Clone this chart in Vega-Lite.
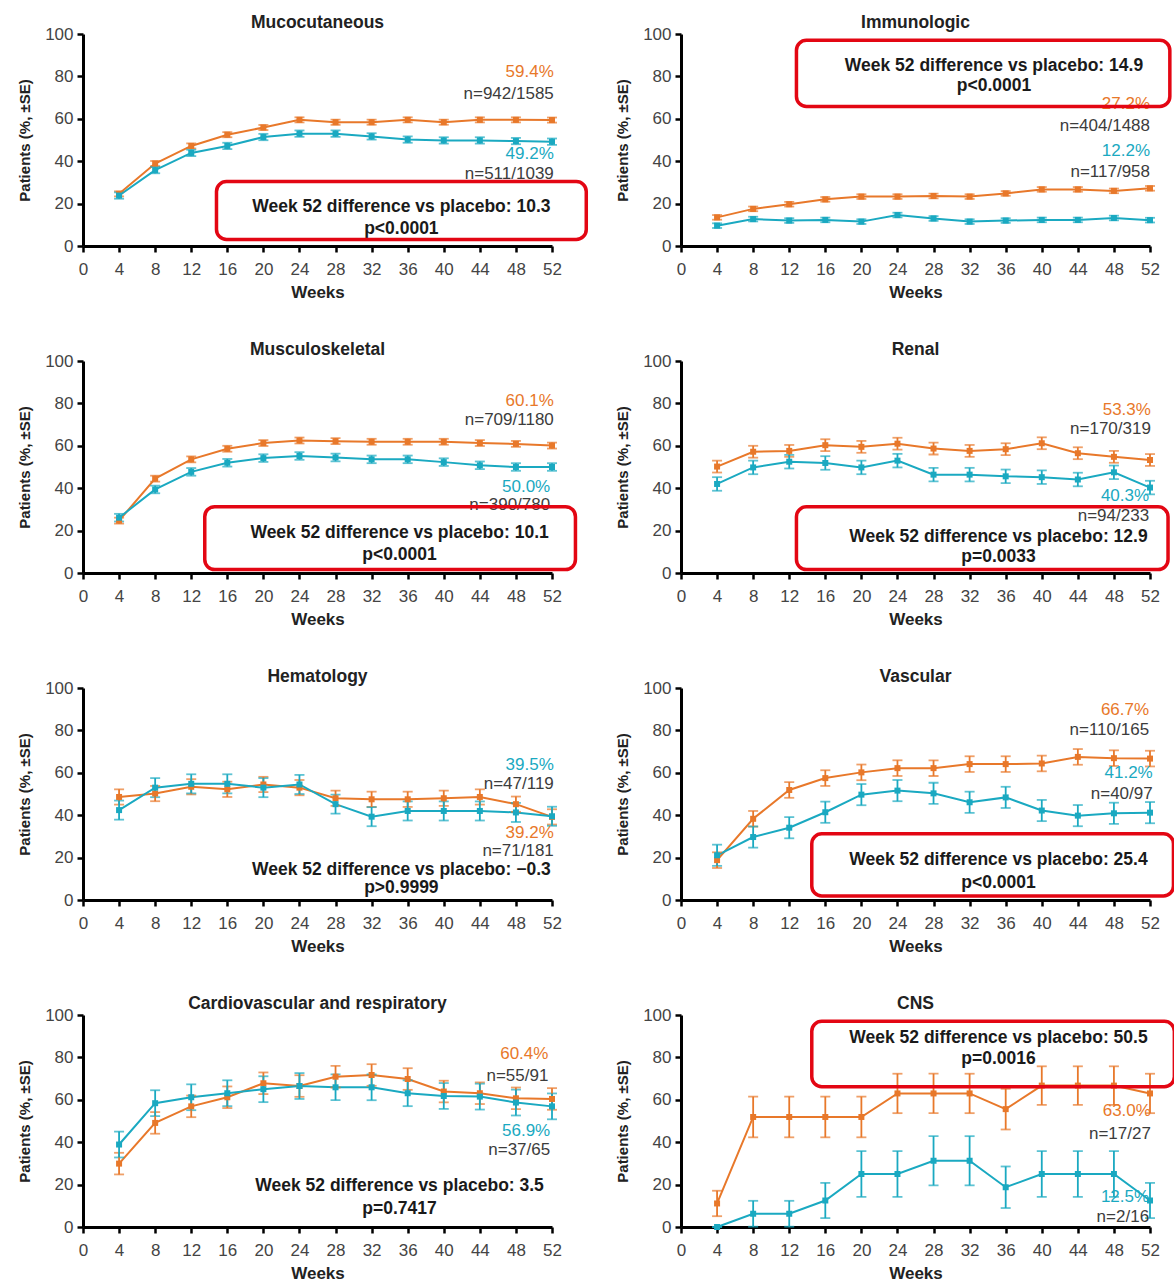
{
 "$schema": "https://vega.github.io/schema/vega-lite/v6.json",
 "padding": {"left": 17, "top": 13, "right": 0, "bottom": 0},
 "background": "white",
 "config": {
  "font": "Liberation Sans",
  "view": {"stroke": null},
  "axis": {"domainColor": "#000", "domainWidth": 3, "tickColor": "#000", "tickWidth": 2.5, "tickSize": 6, "labelFontSize": 17, "labelColor": "#444", "titleFontWeight": "bold", "titleColor": "#222", "grid": false, "labelFont": "Liberation Sans", "titleFont": "Liberation Sans", "labelOverlap": false, "labelFlush": false},
  "axisX": {"labelPadding": 9, "titlePadding": 7, "titleFontSize": 17},
  "axisY": {"labelPadding": 4, "titlePadding": 12, "titleFontSize": 15}
 },
 "data": {"values": [
  {"kind":"pt","panel":"Mucocutaneous","group":"Treatment","week":4,"value":24.6,"se":1.2},
  {"kind":"pt","panel":"Mucocutaneous","group":"Treatment","week":8,"value":38.9,"se":1.2},
  {"kind":"pt","panel":"Mucocutaneous","group":"Treatment","week":12,"value":47.2,"se":1.2},
  {"kind":"pt","panel":"Mucocutaneous","group":"Treatment","week":16,"value":52.5,"se":1.2},
  {"kind":"pt","panel":"Mucocutaneous","group":"Treatment","week":20,"value":55.9,"se":1.2},
  {"kind":"pt","panel":"Mucocutaneous","group":"Treatment","week":24,"value":59.5,"se":1.2},
  {"kind":"pt","panel":"Mucocutaneous","group":"Treatment","week":28,"value":58.4,"se":1.2},
  {"kind":"pt","panel":"Mucocutaneous","group":"Treatment","week":32,"value":58.4,"se":1.2},
  {"kind":"pt","panel":"Mucocutaneous","group":"Treatment","week":36,"value":59.5,"se":1.2},
  {"kind":"pt","panel":"Mucocutaneous","group":"Treatment","week":40,"value":58.4,"se":1.2},
  {"kind":"pt","panel":"Mucocutaneous","group":"Treatment","week":44,"value":59.5,"se":1.2},
  {"kind":"pt","panel":"Mucocutaneous","group":"Treatment","week":48,"value":59.5,"se":1.2},
  {"kind":"pt","panel":"Mucocutaneous","group":"Treatment","week":52,"value":59.4,"se":1.2},
  {"kind":"pt","panel":"Mucocutaneous","group":"Placebo","week":4,"value":23.8,"se":1.5},
  {"kind":"pt","panel":"Mucocutaneous","group":"Placebo","week":8,"value":35.8,"se":1.5},
  {"kind":"pt","panel":"Mucocutaneous","group":"Placebo","week":12,"value":43.9,"se":1.5},
  {"kind":"pt","panel":"Mucocutaneous","group":"Placebo","week":16,"value":47.2,"se":1.5},
  {"kind":"pt","panel":"Mucocutaneous","group":"Placebo","week":20,"value":51.4,"se":1.5},
  {"kind":"pt","panel":"Mucocutaneous","group":"Placebo","week":24,"value":53.0,"se":1.5},
  {"kind":"pt","panel":"Mucocutaneous","group":"Placebo","week":28,"value":53.0,"se":1.5},
  {"kind":"pt","panel":"Mucocutaneous","group":"Placebo","week":32,"value":51.7,"se":1.5},
  {"kind":"pt","panel":"Mucocutaneous","group":"Placebo","week":36,"value":50.2,"se":1.5},
  {"kind":"pt","panel":"Mucocutaneous","group":"Placebo","week":40,"value":49.8,"se":1.5},
  {"kind":"pt","panel":"Mucocutaneous","group":"Placebo","week":44,"value":49.8,"se":1.5},
  {"kind":"pt","panel":"Mucocutaneous","group":"Placebo","week":48,"value":49.5,"se":1.5},
  {"kind":"pt","panel":"Mucocutaneous","group":"Placebo","week":52,"value":49.2,"se":1.5},

  {"kind":"pt","panel":"Immunologic","group":"Treatment","week":4,"value":13.5,"se":1.1},
  {"kind":"pt","panel":"Immunologic","group":"Treatment","week":8,"value":17.5,"se":1.1},
  {"kind":"pt","panel":"Immunologic","group":"Treatment","week":12,"value":19.7,"se":1.1},
  {"kind":"pt","panel":"Immunologic","group":"Treatment","week":16,"value":22.0,"se":1.1},
  {"kind":"pt","panel":"Immunologic","group":"Treatment","week":20,"value":23.3,"se":1.1},
  {"kind":"pt","panel":"Immunologic","group":"Treatment","week":24,"value":23.3,"se":1.1},
  {"kind":"pt","panel":"Immunologic","group":"Treatment","week":28,"value":23.6,"se":1.1},
  {"kind":"pt","panel":"Immunologic","group":"Treatment","week":32,"value":23.3,"se":1.1},
  {"kind":"pt","panel":"Immunologic","group":"Treatment","week":36,"value":24.8,"se":1.1},
  {"kind":"pt","panel":"Immunologic","group":"Treatment","week":40,"value":26.7,"se":1.1},
  {"kind":"pt","panel":"Immunologic","group":"Treatment","week":44,"value":26.7,"se":1.1},
  {"kind":"pt","panel":"Immunologic","group":"Treatment","week":48,"value":26.0,"se":1.1},
  {"kind":"pt","panel":"Immunologic","group":"Treatment","week":52,"value":27.2,"se":1.1},
  {"kind":"pt","panel":"Immunologic","group":"Placebo","week":4,"value":9.6,"se":1.1},
  {"kind":"pt","panel":"Immunologic","group":"Placebo","week":8,"value":12.7,"se":1.1},
  {"kind":"pt","panel":"Immunologic","group":"Placebo","week":12,"value":12.0,"se":1.1},
  {"kind":"pt","panel":"Immunologic","group":"Placebo","week":16,"value":12.3,"se":1.1},
  {"kind":"pt","panel":"Immunologic","group":"Placebo","week":20,"value":11.5,"se":1.1},
  {"kind":"pt","panel":"Immunologic","group":"Placebo","week":24,"value":14.6,"se":1.1},
  {"kind":"pt","panel":"Immunologic","group":"Placebo","week":28,"value":13.0,"se":1.1},
  {"kind":"pt","panel":"Immunologic","group":"Placebo","week":32,"value":11.5,"se":1.1},
  {"kind":"pt","panel":"Immunologic","group":"Placebo","week":36,"value":12.0,"se":1.1},
  {"kind":"pt","panel":"Immunologic","group":"Placebo","week":40,"value":12.3,"se":1.1},
  {"kind":"pt","panel":"Immunologic","group":"Placebo","week":44,"value":12.3,"se":1.1},
  {"kind":"pt","panel":"Immunologic","group":"Placebo","week":48,"value":13.2,"se":1.1},
  {"kind":"pt","panel":"Immunologic","group":"Placebo","week":52,"value":12.2,"se":1.1},

  {"kind":"pt","panel":"Musculoskeletal","group":"Treatment","week":4,"value":24.7,"se":1.4},
  {"kind":"pt","panel":"Musculoskeletal","group":"Treatment","week":8,"value":44.5,"se":1.4},
  {"kind":"pt","panel":"Musculoskeletal","group":"Treatment","week":12,"value":53.6,"se":1.4},
  {"kind":"pt","panel":"Musculoskeletal","group":"Treatment","week":16,"value":58.6,"se":1.4},
  {"kind":"pt","panel":"Musculoskeletal","group":"Treatment","week":20,"value":61.3,"se":1.4},
  {"kind":"pt","panel":"Musculoskeletal","group":"Treatment","week":24,"value":62.5,"se":1.4},
  {"kind":"pt","panel":"Musculoskeletal","group":"Treatment","week":28,"value":62.2,"se":1.4},
  {"kind":"pt","panel":"Musculoskeletal","group":"Treatment","week":32,"value":61.9,"se":1.4},
  {"kind":"pt","panel":"Musculoskeletal","group":"Treatment","week":36,"value":61.9,"se":1.4},
  {"kind":"pt","panel":"Musculoskeletal","group":"Treatment","week":40,"value":61.9,"se":1.4},
  {"kind":"pt","panel":"Musculoskeletal","group":"Treatment","week":44,"value":61.3,"se":1.4},
  {"kind":"pt","panel":"Musculoskeletal","group":"Treatment","week":48,"value":60.9,"se":1.4},
  {"kind":"pt","panel":"Musculoskeletal","group":"Treatment","week":52,"value":60.1,"se":1.4},
  {"kind":"pt","panel":"Musculoskeletal","group":"Placebo","week":4,"value":26.1,"se":1.8},
  {"kind":"pt","panel":"Musculoskeletal","group":"Placebo","week":8,"value":39.4,"se":1.8},
  {"kind":"pt","panel":"Musculoskeletal","group":"Placebo","week":12,"value":47.7,"se":1.8},
  {"kind":"pt","panel":"Musculoskeletal","group":"Placebo","week":16,"value":52.0,"se":1.8},
  {"kind":"pt","panel":"Musculoskeletal","group":"Placebo","week":20,"value":54.2,"se":1.8},
  {"kind":"pt","panel":"Musculoskeletal","group":"Placebo","week":24,"value":55.2,"se":1.8},
  {"kind":"pt","panel":"Musculoskeletal","group":"Placebo","week":28,"value":54.5,"se":1.8},
  {"kind":"pt","panel":"Musculoskeletal","group":"Placebo","week":32,"value":53.6,"se":1.8},
  {"kind":"pt","panel":"Musculoskeletal","group":"Placebo","week":36,"value":53.6,"se":1.8},
  {"kind":"pt","panel":"Musculoskeletal","group":"Placebo","week":40,"value":52.3,"se":1.8},
  {"kind":"pt","panel":"Musculoskeletal","group":"Placebo","week":44,"value":50.8,"se":1.8},
  {"kind":"pt","panel":"Musculoskeletal","group":"Placebo","week":48,"value":50.0,"se":1.8},
  {"kind":"pt","panel":"Musculoskeletal","group":"Placebo","week":52,"value":50.0,"se":1.8},

  {"kind":"pt","panel":"Renal","group":"Treatment","week":4,"value":50.2,"se":2.8},
  {"kind":"pt","panel":"Renal","group":"Treatment","week":8,"value":57.2,"se":2.8},
  {"kind":"pt","panel":"Renal","group":"Treatment","week":12,"value":57.6,"se":2.8},
  {"kind":"pt","panel":"Renal","group":"Treatment","week":16,"value":60.3,"se":2.8},
  {"kind":"pt","panel":"Renal","group":"Treatment","week":20,"value":59.5,"se":2.8},
  {"kind":"pt","panel":"Renal","group":"Treatment","week":24,"value":61.0,"se":2.8},
  {"kind":"pt","panel":"Renal","group":"Treatment","week":28,"value":58.7,"se":2.8},
  {"kind":"pt","panel":"Renal","group":"Treatment","week":32,"value":57.6,"se":2.8},
  {"kind":"pt","panel":"Renal","group":"Treatment","week":36,"value":58.4,"se":2.8},
  {"kind":"pt","panel":"Renal","group":"Treatment","week":40,"value":61.2,"se":2.8},
  {"kind":"pt","panel":"Renal","group":"Treatment","week":44,"value":56.5,"se":2.8},
  {"kind":"pt","panel":"Renal","group":"Treatment","week":48,"value":54.8,"se":2.8},
  {"kind":"pt","panel":"Renal","group":"Treatment","week":52,"value":53.3,"se":2.8},
  {"kind":"pt","panel":"Renal","group":"Placebo","week":4,"value":42.0,"se":3.2},
  {"kind":"pt","panel":"Renal","group":"Placebo","week":8,"value":49.8,"se":3.2},
  {"kind":"pt","panel":"Renal","group":"Placebo","week":12,"value":52.5,"se":3.2},
  {"kind":"pt","panel":"Renal","group":"Placebo","week":16,"value":51.9,"se":3.2},
  {"kind":"pt","panel":"Renal","group":"Placebo","week":20,"value":49.8,"se":3.2},
  {"kind":"pt","panel":"Renal","group":"Placebo","week":24,"value":53.0,"se":3.2},
  {"kind":"pt","panel":"Renal","group":"Placebo","week":28,"value":46.4,"se":3.2},
  {"kind":"pt","panel":"Renal","group":"Placebo","week":32,"value":46.4,"se":3.2},
  {"kind":"pt","panel":"Renal","group":"Placebo","week":36,"value":45.6,"se":3.2},
  {"kind":"pt","panel":"Renal","group":"Placebo","week":40,"value":45.2,"se":3.2},
  {"kind":"pt","panel":"Renal","group":"Placebo","week":44,"value":44.1,"se":3.2},
  {"kind":"pt","panel":"Renal","group":"Placebo","week":48,"value":47.5,"se":3.2},
  {"kind":"pt","panel":"Renal","group":"Placebo","week":52,"value":40.3,"se":3.2},

  {"kind":"pt","panel":"Hematology","group":"Treatment","week":4,"value":48.6,"se":3.6},
  {"kind":"pt","panel":"Hematology","group":"Treatment","week":8,"value":50.2,"se":3.6},
  {"kind":"pt","panel":"Hematology","group":"Treatment","week":12,"value":53.4,"se":3.6},
  {"kind":"pt","panel":"Hematology","group":"Treatment","week":16,"value":52.2,"se":3.6},
  {"kind":"pt","panel":"Hematology","group":"Treatment","week":20,"value":54.5,"se":3.6},
  {"kind":"pt","panel":"Hematology","group":"Treatment","week":24,"value":53.0,"se":3.6},
  {"kind":"pt","panel":"Hematology","group":"Treatment","week":28,"value":48.0,"se":3.6},
  {"kind":"pt","panel":"Hematology","group":"Treatment","week":32,"value":47.5,"se":3.6},
  {"kind":"pt","panel":"Hematology","group":"Treatment","week":36,"value":47.5,"se":3.6},
  {"kind":"pt","panel":"Hematology","group":"Treatment","week":40,"value":48.0,"se":3.6},
  {"kind":"pt","panel":"Hematology","group":"Treatment","week":44,"value":48.6,"se":3.6},
  {"kind":"pt","panel":"Hematology","group":"Treatment","week":48,"value":45.2,"se":3.6},
  {"kind":"pt","panel":"Hematology","group":"Treatment","week":52,"value":39.2,"se":3.6},
  {"kind":"pt","panel":"Hematology","group":"Placebo","week":4,"value":42.4,"se":4.5},
  {"kind":"pt","panel":"Hematology","group":"Placebo","week":8,"value":53.0,"se":4.5},
  {"kind":"pt","panel":"Hematology","group":"Placebo","week":12,"value":54.8,"se":4.5},
  {"kind":"pt","panel":"Hematology","group":"Placebo","week":16,"value":54.8,"se":4.5},
  {"kind":"pt","panel":"Hematology","group":"Placebo","week":20,"value":53.0,"se":4.5},
  {"kind":"pt","panel":"Hematology","group":"Placebo","week":24,"value":54.5,"se":4.5},
  {"kind":"pt","panel":"Hematology","group":"Placebo","week":28,"value":45.2,"se":4.5},
  {"kind":"pt","panel":"Hematology","group":"Placebo","week":32,"value":39.3,"se":4.5},
  {"kind":"pt","panel":"Hematology","group":"Placebo","week":36,"value":42.0,"se":4.5},
  {"kind":"pt","panel":"Hematology","group":"Placebo","week":40,"value":42.0,"se":4.5},
  {"kind":"pt","panel":"Hematology","group":"Placebo","week":44,"value":42.0,"se":4.5},
  {"kind":"pt","panel":"Hematology","group":"Placebo","week":48,"value":41.3,"se":4.5},
  {"kind":"pt","panel":"Hematology","group":"Placebo","week":52,"value":39.5,"se":4.5},

  {"kind":"pt","panel":"Vascular","group":"Treatment","week":4,"value":18.8,"se":3.7},
  {"kind":"pt","panel":"Vascular","group":"Treatment","week":8,"value":38.3,"se":3.7},
  {"kind":"pt","panel":"Vascular","group":"Treatment","week":12,"value":51.9,"se":3.7},
  {"kind":"pt","panel":"Vascular","group":"Treatment","week":16,"value":57.5,"se":3.7},
  {"kind":"pt","panel":"Vascular","group":"Treatment","week":20,"value":60.2,"se":3.7},
  {"kind":"pt","panel":"Vascular","group":"Treatment","week":24,"value":62.2,"se":3.7},
  {"kind":"pt","panel":"Vascular","group":"Treatment","week":28,"value":62.2,"se":3.7},
  {"kind":"pt","panel":"Vascular","group":"Treatment","week":32,"value":64.1,"se":3.7},
  {"kind":"pt","panel":"Vascular","group":"Treatment","week":36,"value":64.1,"se":3.7},
  {"kind":"pt","panel":"Vascular","group":"Treatment","week":40,"value":64.4,"se":3.7},
  {"kind":"pt","panel":"Vascular","group":"Treatment","week":44,"value":67.5,"se":3.7},
  {"kind":"pt","panel":"Vascular","group":"Treatment","week":48,"value":66.9,"se":3.7},
  {"kind":"pt","panel":"Vascular","group":"Treatment","week":52,"value":66.7,"se":3.7},
  {"kind":"pt","panel":"Vascular","group":"Placebo","week":4,"value":21.1,"se":5.0},
  {"kind":"pt","panel":"Vascular","group":"Placebo","week":8,"value":29.7,"se":5.0},
  {"kind":"pt","panel":"Vascular","group":"Placebo","week":12,"value":34.1,"se":5.0},
  {"kind":"pt","panel":"Vascular","group":"Placebo","week":16,"value":41.4,"se":5.0},
  {"kind":"pt","panel":"Vascular","group":"Placebo","week":20,"value":49.7,"se":5.0},
  {"kind":"pt","panel":"Vascular","group":"Placebo","week":24,"value":51.6,"se":5.0},
  {"kind":"pt","panel":"Vascular","group":"Placebo","week":28,"value":50.3,"se":5.0},
  {"kind":"pt","panel":"Vascular","group":"Placebo","week":32,"value":46.1,"se":5.0},
  {"kind":"pt","panel":"Vascular","group":"Placebo","week":36,"value":48.4,"se":5.0},
  {"kind":"pt","panel":"Vascular","group":"Placebo","week":40,"value":42.2,"se":5.0},
  {"kind":"pt","panel":"Vascular","group":"Placebo","week":44,"value":39.8,"se":5.0},
  {"kind":"pt","panel":"Vascular","group":"Placebo","week":48,"value":40.9,"se":5.0},
  {"kind":"pt","panel":"Vascular","group":"Placebo","week":52,"value":41.2,"se":5.0},

  {"kind":"pt","panel":"Cardiovascular and respiratory","group":"Treatment","week":4,"value":29.9,"se":5.1},
  {"kind":"pt","panel":"Cardiovascular and respiratory","group":"Treatment","week":8,"value":49.1,"se":5.1},
  {"kind":"pt","panel":"Cardiovascular and respiratory","group":"Treatment","week":12,"value":56.9,"se":5.1},
  {"kind":"pt","panel":"Cardiovascular and respiratory","group":"Treatment","week":16,"value":61.2,"se":5.1},
  {"kind":"pt","panel":"Cardiovascular and respiratory","group":"Treatment","week":20,"value":67.8,"se":5.1},
  {"kind":"pt","panel":"Cardiovascular and respiratory","group":"Treatment","week":24,"value":66.5,"se":5.1},
  {"kind":"pt","panel":"Cardiovascular and respiratory","group":"Treatment","week":28,"value":70.9,"se":5.1},
  {"kind":"pt","panel":"Cardiovascular and respiratory","group":"Treatment","week":32,"value":71.7,"se":5.1},
  {"kind":"pt","panel":"Cardiovascular and respiratory","group":"Treatment","week":36,"value":69.8,"se":5.1},
  {"kind":"pt","panel":"Cardiovascular and respiratory","group":"Treatment","week":40,"value":63.9,"se":5.1},
  {"kind":"pt","panel":"Cardiovascular and respiratory","group":"Treatment","week":44,"value":63.1,"se":5.1},
  {"kind":"pt","panel":"Cardiovascular and respiratory","group":"Treatment","week":48,"value":60.7,"se":5.1},
  {"kind":"pt","panel":"Cardiovascular and respiratory","group":"Treatment","week":52,"value":60.4,"se":5.1},
  {"kind":"pt","panel":"Cardiovascular and respiratory","group":"Placebo","week":4,"value":38.9,"se":6.1},
  {"kind":"pt","panel":"Cardiovascular and respiratory","group":"Placebo","week":8,"value":58.4,"se":6.1},
  {"kind":"pt","panel":"Cardiovascular and respiratory","group":"Placebo","week":12,"value":61.2,"se":6.1},
  {"kind":"pt","panel":"Cardiovascular and respiratory","group":"Placebo","week":16,"value":63.1,"se":6.1},
  {"kind":"pt","panel":"Cardiovascular and respiratory","group":"Placebo","week":20,"value":65.0,"se":6.1},
  {"kind":"pt","panel":"Cardiovascular and respiratory","group":"Placebo","week":24,"value":66.5,"se":6.1},
  {"kind":"pt","panel":"Cardiovascular and respiratory","group":"Placebo","week":28,"value":65.9,"se":6.1},
  {"kind":"pt","panel":"Cardiovascular and respiratory","group":"Placebo","week":32,"value":65.9,"se":6.1},
  {"kind":"pt","panel":"Cardiovascular and respiratory","group":"Placebo","week":36,"value":63.1,"se":6.1},
  {"kind":"pt","panel":"Cardiovascular and respiratory","group":"Placebo","week":40,"value":61.8,"se":6.1},
  {"kind":"pt","panel":"Cardiovascular and respiratory","group":"Placebo","week":44,"value":61.5,"se":6.1},
  {"kind":"pt","panel":"Cardiovascular and respiratory","group":"Placebo","week":48,"value":58.7,"se":6.1},
  {"kind":"pt","panel":"Cardiovascular and respiratory","group":"Placebo","week":52,"value":56.9,"se":6.1},

  {"kind":"pt","panel":"CNS","group":"Treatment","week":4,"value":11.1,"se":6.0},
  {"kind":"pt","panel":"CNS","group":"Treatment","week":8,"value":51.9,"se":9.6},
  {"kind":"pt","panel":"CNS","group":"Treatment","week":12,"value":51.9,"se":9.6},
  {"kind":"pt","panel":"CNS","group":"Treatment","week":16,"value":51.9,"se":9.6},
  {"kind":"pt","panel":"CNS","group":"Treatment","week":20,"value":51.9,"se":9.6},
  {"kind":"pt","panel":"CNS","group":"Treatment","week":24,"value":63.0,"se":9.3},
  {"kind":"pt","panel":"CNS","group":"Treatment","week":28,"value":63.0,"se":9.3},
  {"kind":"pt","panel":"CNS","group":"Treatment","week":32,"value":63.0,"se":9.3},
  {"kind":"pt","panel":"CNS","group":"Treatment","week":36,"value":55.6,"se":9.6},
  {"kind":"pt","panel":"CNS","group":"Treatment","week":40,"value":66.7,"se":9.1},
  {"kind":"pt","panel":"CNS","group":"Treatment","week":44,"value":66.7,"se":9.1},
  {"kind":"pt","panel":"CNS","group":"Treatment","week":48,"value":66.7,"se":9.1},
  {"kind":"pt","panel":"CNS","group":"Treatment","week":52,"value":63.0,"se":9.3},
  {"kind":"pt","panel":"CNS","group":"Placebo","week":4,"value":0,"se":0},
  {"kind":"pt","panel":"CNS","group":"Placebo","week":8,"value":6.25,"se":6.1},
  {"kind":"pt","panel":"CNS","group":"Placebo","week":12,"value":6.25,"se":6.1},
  {"kind":"pt","panel":"CNS","group":"Placebo","week":16,"value":12.5,"se":8.3},
  {"kind":"pt","panel":"CNS","group":"Placebo","week":20,"value":25,"se":10.8},
  {"kind":"pt","panel":"CNS","group":"Placebo","week":24,"value":25,"se":10.8},
  {"kind":"pt","panel":"CNS","group":"Placebo","week":28,"value":31.25,"se":11.6},
  {"kind":"pt","panel":"CNS","group":"Placebo","week":32,"value":31.25,"se":11.6},
  {"kind":"pt","panel":"CNS","group":"Placebo","week":36,"value":18.75,"se":9.8},
  {"kind":"pt","panel":"CNS","group":"Placebo","week":40,"value":25,"se":10.8},
  {"kind":"pt","panel":"CNS","group":"Placebo","week":44,"value":25,"se":10.8},
  {"kind":"pt","panel":"CNS","group":"Placebo","week":48,"value":25,"se":10.8},
  {"kind":"pt","panel":"CNS","group":"Placebo","week":52,"value":12.5,"se":8.3},

  {"kind":"ann","panel":"Mucocutaneous","group":"Treatment","ax":52.2,"ay":82.1,"label":"59.4%"},
  {"kind":"ann","panel":"Mucocutaneous","group":"n","ax":52.2,"ay":71.7,"label":"n=942/1585"},
  {"kind":"ann","panel":"Mucocutaneous","group":"Placebo","ax":52.2,"ay":43.3,"label":"49.2%"},
  {"kind":"ann","panel":"Mucocutaneous","group":"n","ax":52.2,"ay":34,"label":"n=511/1039"},
  {"kind":"ann","panel":"Immunologic","group":"Treatment","ax":52,"ay":67,"label":"27.2%"},
  {"kind":"ann","panel":"Immunologic","group":"n","ax":52,"ay":56.5,"label":"n=404/1488"},
  {"kind":"ann","panel":"Immunologic","group":"Placebo","ax":52,"ay":44.6,"label":"12.2%"},
  {"kind":"ann","panel":"Immunologic","group":"n","ax":52,"ay":34.8,"label":"n=117/958"},
  {"kind":"ann","panel":"Musculoskeletal","group":"Treatment","ax":52.2,"ay":81.3,"label":"60.1%"},
  {"kind":"ann","panel":"Musculoskeletal","group":"n","ax":52.2,"ay":72.3,"label":"n=709/1180"},
  {"kind":"ann","panel":"Musculoskeletal","group":"Placebo","ax":51.8,"ay":40.6,"label":"50.0%"},
  {"kind":"ann","panel":"Musculoskeletal","group":"n","ax":51.8,"ay":32,"label":"n=390/780"},
  {"kind":"ann","panel":"Renal","group":"Treatment","ax":52.1,"ay":77.1,"label":"53.3%"},
  {"kind":"ann","panel":"Renal","group":"n","ax":52.1,"ay":67.8,"label":"n=170/319"},
  {"kind":"ann","panel":"Renal","group":"Placebo","ax":51.9,"ay":36.4,"label":"40.3%"},
  {"kind":"ann","panel":"Renal","group":"n","ax":51.9,"ay":26.8,"label":"n=94/233"},
  {"kind":"ann","panel":"Hematology","group":"Placebo","ax":52.2,"ay":63.6,"label":"39.5%"},
  {"kind":"ann","panel":"Hematology","group":"n","ax":52.2,"ay":54.8,"label":"n=47/119"},
  {"kind":"ann","panel":"Hematology","group":"Treatment","ax":52.2,"ay":31.6,"label":"39.2%"},
  {"kind":"ann","panel":"Hematology","group":"n","ax":52.2,"ay":23.1,"label":"n=71/181"},
  {"kind":"ann","panel":"Vascular","group":"Treatment","ax":51.9,"ay":89.8,"label":"66.7%"},
  {"kind":"ann","panel":"Vascular","group":"n","ax":51.9,"ay":80,"label":"n=110/165"},
  {"kind":"ann","panel":"Vascular","group":"Placebo","ax":52.3,"ay":59.7,"label":"41.2%"},
  {"kind":"ann","panel":"Vascular","group":"n","ax":52.3,"ay":50,"label":"n=40/97"},
  {"kind":"ann","panel":"Cardiovascular and respiratory","group":"Treatment","ax":51.6,"ay":81.5,"label":"60.4%"},
  {"kind":"ann","panel":"Cardiovascular and respiratory","group":"n","ax":51.6,"ay":71.3,"label":"n=55/91"},
  {"kind":"ann","panel":"Cardiovascular and respiratory","group":"Placebo","ax":51.8,"ay":45.2,"label":"56.9%"},
  {"kind":"ann","panel":"Cardiovascular and respiratory","group":"n","ax":51.8,"ay":36.3,"label":"n=37/65"},
  {"kind":"ann","panel":"CNS","group":"Treatment","ax":52.1,"ay":54.5,"label":"63.0%"},
  {"kind":"ann","panel":"CNS","group":"n","ax":52.1,"ay":44.1,"label":"n=17/27"},
  {"kind":"ann","panel":"CNS","group":"Placebo","ax":51.9,"ay":14,"label":"12.5%"},
  {"kind":"ann","panel":"CNS","group":"n","ax":51.9,"ay":4.7,"label":"n=2/16"},

  {"kind":"dt","panel":"Mucocutaneous","ax":35.3,"ay":18.4,"label":"Week 52 difference vs placebo: 10.3"},
  {"kind":"dt","panel":"Mucocutaneous","ax":35.3,"ay":7.8,"label":"p<0.0001"},
  {"kind":"dt","panel":"Immunologic","ax":34.7,"ay":84.9,"label":"Week 52 difference vs placebo: 14.9"},
  {"kind":"dt","panel":"Immunologic","ax":34.7,"ay":75.6,"label":"p<0.0001"},
  {"kind":"dt","panel":"Musculoskeletal","ax":35.1,"ay":18.8,"label":"Week 52 difference vs placebo: 10.1"},
  {"kind":"dt","panel":"Musculoskeletal","ax":35.1,"ay":8.6,"label":"p<0.0001"},
  {"kind":"dt","panel":"Renal","ax":35.2,"ay":17.0,"label":"Week 52 difference vs placebo: 12.9"},
  {"kind":"dt","panel":"Renal","ax":35.2,"ay":7.4,"label":"p=0.0033"},
  {"kind":"dt","panel":"Hematology","ax":35.3,"ay":14.3,"label":"Week 52 difference vs placebo: −0.3"},
  {"kind":"dt","panel":"Hematology","ax":35.3,"ay":5.6,"label":"p>0.9999"},
  {"kind":"dt","panel":"Vascular","ax":35.2,"ay":18.8,"label":"Week 52 difference vs placebo: 25.4"},
  {"kind":"dt","panel":"Vascular","ax":35.2,"ay":7.8,"label":"p<0.0001"},
  {"kind":"dt","panel":"Cardiovascular and respiratory","ax":35.1,"ay":19.2,"label":"Week 52 difference vs placebo: 3.5"},
  {"kind":"dt","panel":"Cardiovascular and respiratory","ax":35.1,"ay":8.6,"label":"p=0.7417"},
  {"kind":"dt","panel":"CNS","ax":35.2,"ay":89.3,"label":"Week 52 difference vs placebo: 50.5"},
  {"kind":"dt","panel":"CNS","ax":35.2,"ay":79.1,"label":"p=0.0016"},

  {"kind":"box","panel":"Mucocutaneous","bx1":14.8,"bx2":55.8,"by1":3.1,"by2":30.4},
  {"kind":"box","panel":"Immunologic","bx1":12.8,"bx2":54.2,"by1":65.8,"by2":97},
  {"kind":"box","panel":"Musculoskeletal","bx1":13.5,"bx2":54.6,"by1":1.6,"by2":31.3},
  {"kind":"box","panel":"Renal","bx1":12.8,"bx2":54,"by1":1.6,"by2":31.2},
  {"kind":"box","panel":"Vascular","bx1":14.5,"bx2":54.6,"by1":1.9,"by2":31.2},
  {"kind":"box","panel":"CNS","bx1":14.5,"bx2":54.7,"by1":66.2,"by2":97}
 ]},
 "facet": {
  "field": "panel", "type": "nominal",
  "sort": ["Mucocutaneous","Immunologic","Musculoskeletal","Renal","Hematology","Vascular","Cardiovascular and respiratory","CNS"],
  "header": {"title": null, "labelFontSize": 17.5, "labelFontWeight": "bold", "labelColor": "#222", "labelPadding": -6, "labelFont": "Liberation Sans"}
 },
 "columns": 2,
 "spacing": {"row": 115, "column": 129},
 "bounds": "flush",
 "resolve": {"axis": {"x": "independent", "y": "independent"}},
 "spec": {
  "width": 469,
  "height": 212,
  "layer": [
   {
    "transform": [{"filter": "datum.kind == 'pt'"}],
    "mark": {"type": "line", "strokeWidth": 2},
    "encoding": {
     "x": {"field": "week", "type": "quantitative", "title": "Weeks", "scale": {"domain": [0, 52], "nice": false, "zero": true}, "axis": {"values": [0,4,8,12,16,20,24,28,32,36,40,44,48,52], "labelOverlap": false, "labelFlush": false, "labelBound": false}},
     "y": {"field": "value", "type": "quantitative", "title": "Patients (%, ±SE)", "scale": {"domain": [0, 100], "nice": false}, "axis": {"values": [0,20,40,60,80,100], "labelOverlap": false}},
     "color": {"field": "group", "type": "nominal", "scale": {"domain": ["Treatment","Placebo","n"], "range": ["#E8782A","#1AA9C1","#3c3c3c"]}, "legend": null}
    }
   },
   {
    "transform": [{"filter": "datum.kind == 'pt'"}],
    "mark": {"type": "errorbar", "ticks": {"size": 10, "thickness": 1.8}, "thickness": 1.8},
    "encoding": {
     "x": {"field": "week", "type": "quantitative", "title": "Weeks", "axis": {"values": [0,4,8,12,16,20,24,28,32,36,40,44,48,52], "labelOverlap": false, "labelFlush": false}},
     "y": {"field": "value", "type": "quantitative", "title": "Patients (%, ±SE)"},
     "yError": {"field": "se"},
     "color": {"field": "group", "type": "nominal", "legend": null}
    }
   },
   {
    "transform": [{"filter": "datum.kind == 'pt'"}],
    "mark": {"type": "point", "shape": "square", "filled": true, "size": 36, "opacity": 1},
    "encoding": {
     "x": {"field": "week", "type": "quantitative", "title": "Weeks", "axis": {"values": [0,4,8,12,16,20,24,28,32,36,40,44,48,52], "labelOverlap": false, "labelFlush": false}},
     "y": {"field": "value", "type": "quantitative", "title": "Patients (%, ±SE)"},
     "color": {"field": "group", "type": "nominal", "legend": null}
    }
   },
   {
    "transform": [{"filter": "datum.kind == 'ann'"}],
    "mark": {"type": "text", "align": "right", "baseline": "middle", "fontSize": 17, "font": "Liberation Sans"},
    "encoding": {
     "x": {"field": "ax", "type": "quantitative", "title": "Weeks", "axis": {"values": [0,4,8,12,16,20,24,28,32,36,40,44,48,52], "labelOverlap": false, "labelFlush": false}},
     "y": {"field": "ay", "type": "quantitative", "title": "Patients (%, ±SE)"},
     "text": {"field": "label"},
     "color": {"field": "group", "type": "nominal", "legend": null}
    }
   },
   {
    "transform": [{"filter": "datum.kind == 'dt'"}],
    "mark": {"type": "text", "align": "center", "baseline": "middle", "fontSize": 17.5, "fontWeight": "bold", "font": "Liberation Sans", "color": "#1a1a1a"},
    "encoding": {
     "x": {"field": "ax", "type": "quantitative", "title": "Weeks", "axis": {"values": [0,4,8,12,16,20,24,28,32,36,40,44,48,52], "labelOverlap": false, "labelFlush": false}},
     "y": {"field": "ay", "type": "quantitative", "title": "Patients (%, ±SE)"},
     "text": {"field": "label"}
    }
   },
   {
    "transform": [{"filter": "datum.kind == 'box'"}],
    "mark": {"type": "rect", "fillOpacity": 0, "fill": "white", "stroke": "#E30613", "strokeWidth": 3.5, "cornerRadius": 10},
    "encoding": {
     "x": {"field": "bx1", "type": "quantitative", "title": "Weeks", "axis": {"values": [0,4,8,12,16,20,24,28,32,36,40,44,48,52], "labelOverlap": false, "labelFlush": false}},
     "x2": {"field": "bx2"},
     "y": {"field": "by1", "type": "quantitative", "title": "Patients (%, ±SE)"},
     "y2": {"field": "by2"}
    }
   }
  ]
 }
}
